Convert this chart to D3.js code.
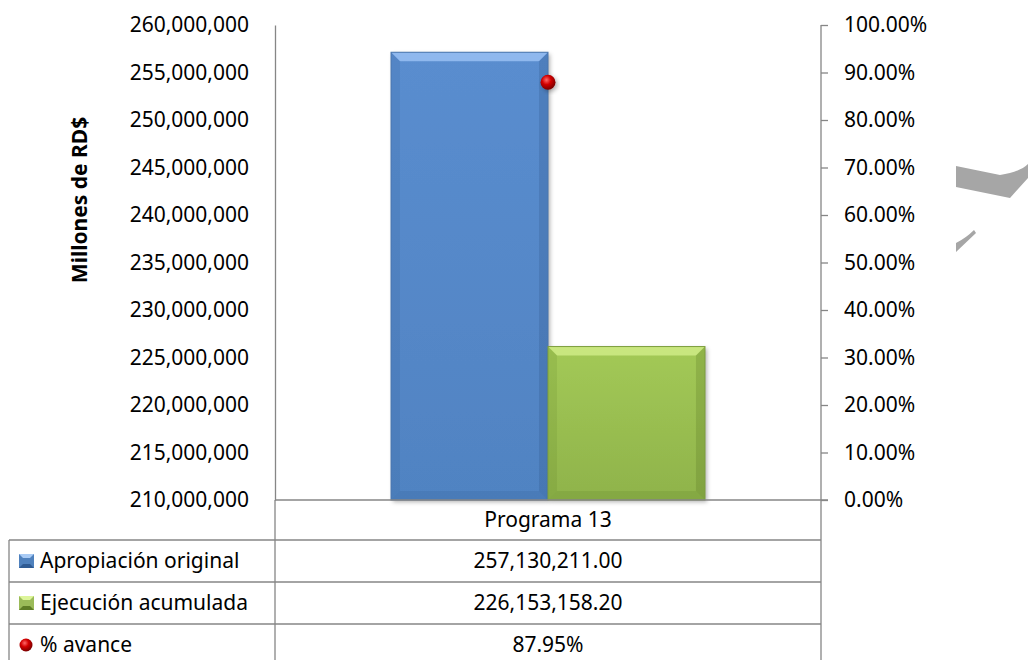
<!DOCTYPE html>
<html>
<head>
<meta charset="utf-8">
<script src="https://cdn.jsdelivr.net/npm/d3@7"></script>
<style>
  body { margin: 0; background: #fff; }
  text { font-family: "Noto Sans", "Open Sans", sans-serif; fill: #000; }
</style>
</head>
<body>
<div id="chart"></div>
<script>
var w = 1028,
	h = 660;

// Data
var categories = ["Programa 13"];
var seriesNames = ["Apropiación original", "Ejecución acumulada"];
var apropiacion = [257130211.00];
var ejecucion = [226153158.20];
var avance = [0.8795];
var leftTicks = [210000000, 215000000, 220000000, 225000000, 230000000, 235000000,
	240000000, 245000000, 250000000, 255000000, 260000000];
var rightTicks = [0, 0.1, 0.2, 0.3, 0.4, 0.5, 0.6, 0.7, 0.8, 0.9, 1.0];

var plotLeft = 275, plotRight = 821, plotTop = 25, base = 500;
var fs = "21px";

var svg = d3.select("#chart").append("svg")
	.attr("width", w)
	.attr("height", h);

var defs = svg.append("defs");

// gradients
function linGrad(id, c1, c2) {
	var g = defs.append("linearGradient").attr("id", id)
		.attr("x1", 0).attr("y1", 0).attr("x2", 0).attr("y2", 1);
	g.append("stop").attr("offset", "0%").attr("stop-color", c1);
	g.append("stop").attr("offset", "100%").attr("stop-color", c2);
}
linGrad("blueG", "#5a8dcf", "#5083c2");
linGrad("greenG", "#a3c956", "#8fb34b");

var rg = defs.append("radialGradient").attr("id", "redBall")
	.attr("cx", "40%").attr("cy", "35%").attr("r", "65%");
rg.append("stop").attr("offset", "0%").attr("stop-color", "#ff6a6a");
rg.append("stop").attr("offset", "45%").attr("stop-color", "#d40000");
rg.append("stop").attr("offset", "100%").attr("stop-color", "#7a0000");

var sh = defs.append("filter").attr("id", "shadow")
	.attr("x", "-20%").attr("y", "-20%").attr("width", "150%").attr("height", "150%");
sh.append("feDropShadow").attr("dx", 2).attr("dy", 2).attr("stdDeviation", 2)
	.attr("flood-color", "#000").attr("flood-opacity", 0.3);

// Scales
var y = d3.scaleLinear().domain([210000000, 260000000]).range([base, plotTop]);
var y2 = d3.scaleLinear().domain([0, 1]).range([base, plotTop]);

var x0 = d3.scaleBand().domain(categories).range([plotLeft, plotRight]);
var x1 = d3.scaleBand().domain(seriesNames).range([0, x0.bandwidth()]).paddingOuter(0.739);

var fmt = d3.format(",");

// Left axis
var yAxis = d3.axisLeft(y).tickValues(leftTicks).tickSize(0).tickPadding(26)
	.tickFormat(function(d){ return fmt(d); });
var gy = svg.append("g").attr("transform", "translate(" + plotLeft + ",0)").call(yAxis);
gy.select(".domain").attr("stroke", "#868686").attr("stroke-width", 1.3);
gy.selectAll("text").attr("font-size", fs)
	.style("font-family", "'Noto Sans', sans-serif").attr("fill", "#000");

// Right axis
var y2Axis = d3.axisRight(y2).tickValues(rightTicks).tickSize(7).tickSizeOuter(7).tickPadding(16)
	.tickFormat(d3.format(".2%"));
var gy2 = svg.append("g").attr("transform", "translate(" + plotRight + ",0)").call(y2Axis);
gy2.select(".domain").attr("stroke", "#868686").attr("stroke-width", 1.3)
	.attr("d", "M0," + plotTop + "V" + h);
gy2.selectAll(".tick line").attr("stroke", "#868686").attr("stroke-width", 1.3);
gy2.selectAll("text").attr("font-size", fs)
	.style("font-family", "'Noto Sans', sans-serif").attr("fill", "#000");

// Axis title
svg.append("text")
	.attr("transform", "translate(80,200) rotate(-90)")
	.attr("text-anchor", "middle")
	.attr("dy", "0.35em")
	.attr("font-size", "21px")
	.attr("font-weight", "bold")
	.text("Millones de RD$");

// Bevelled bar
function bevelBar(g, bx, by, bw, bh, grad, light, dark, edge) {
	var b = 9;
	g.append("rect").attr("x", bx).attr("y", by).attr("width", bw).attr("height", bh)
		.attr("fill", "url(#" + grad + ")").attr("filter", "url(#shadow)");
	// top bevel
	g.append("path").attr("d", "M" + bx + "," + by + "H" + (bx + bw) + "L" + (bx + bw - b) + "," + (by + b)
		+ "H" + (bx + b) + "Z").attr("fill", light).attr("opacity", 0.8);
	// left bevel
	g.append("path").attr("d", "M" + bx + "," + by + "L" + (bx + b) + "," + (by + b) + "V" + (by + bh - b)
		+ "L" + bx + "," + (by + bh) + "Z").attr("fill", dark).attr("opacity", 0.12);
	// right bevel
	g.append("path").attr("d", "M" + (bx + bw) + "," + by + "L" + (bx + bw - b) + "," + (by + b) + "V" + (by + bh - b)
		+ "L" + (bx + bw) + "," + (by + bh) + "Z").attr("fill", dark).attr("opacity", 0.22);
	// bottom bevel
	g.append("path").attr("d", "M" + bx + "," + (by + bh) + "L" + (bx + b) + "," + (by + bh - b) + "H" + (bx + bw - b)
		+ "L" + (bx + bw) + "," + (by + bh) + "Z").attr("fill", dark).attr("opacity", 0.15);
	g.append("rect").attr("x", bx).attr("y", by).attr("width", bw).attr("height", bh)
		.attr("fill", "none").attr("stroke", edge).attr("stroke-width", 1);
}

var bars = svg.append("g");
categories.forEach(function(c, i) {
	var gx = x0(c);
	bevelBar(bars, gx + x1(seriesNames[0]), y(apropiacion[i]), x1.bandwidth(), base - y(apropiacion[i]),
		"blueG", "#9cc3f5", "#2a4f80", "#4a76ad");
	bevelBar(bars, gx + x1(seriesNames[1]), y(ejecucion[i]), x1.bandwidth(), base - y(ejecucion[i]),
		"greenG", "#d2ee8a", "#4d6a1c", "#7e9f3f");
	// % avance point
	bars.append("circle")
		.attr("cx", gx + x0.bandwidth() / 2)
		.attr("cy", y2(avance[i]))
		.attr("r", 7.5)
		.attr("fill", "url(#redBall)")
		.attr("filter", "url(#shadow)");
});

// Baseline (category axis)
svg.append("line").attr("x1", plotLeft).attr("x2", plotRight + 7).attr("y1", base).attr("y2", base)
	.attr("stroke", "#868686").attr("stroke-width", 1.5);

// Data table
var tableLeft = 9, rowH = 42, headerBottom = 540;
var tbl = svg.append("g").attr("stroke", "#868686").attr("stroke-width", 1.3);
tbl.append("line").attr("x1", plotLeft).attr("x2", plotLeft).attr("y1", base).attr("y2", h);
tbl.append("line").attr("x1", tableLeft).attr("x2", tableLeft).attr("y1", headerBottom).attr("y2", h);
[0, 1, 2].forEach(function(k) {
	tbl.append("line").attr("x1", tableLeft).attr("x2", plotRight)
		.attr("y1", headerBottom + k * rowH).attr("y2", headerBottom + k * rowH);
});

var cx = x0(categories[0]) + x0.bandwidth() / 2;
svg.append("text").attr("x", cx).attr("y", 520).attr("dy", "0.35em")
	.attr("text-anchor", "middle").attr("font-size", fs).text(categories[0]);

var rows = [
	{label: seriesNames[0], value: d3.format(",.2f")(apropiacion[0]), key: "blue"},
	{label: seriesNames[1], value: d3.format(",.2f")(ejecucion[0]), key: "green"},
	{label: "% avance", value: d3.format(".2%")(avance[0]), key: "red"}
];

rows.forEach(function(r, i) {
	var cy = headerBottom + i * rowH + rowH / 2;
	if (r.key === "red") {
		svg.append("circle").attr("cx", 26).attr("cy", cy).attr("r", 6.5)
			.attr("fill", "url(#redBall)");
	} else {
		var g = svg.append("g");
		if (r.key === "blue") {
			g.append("rect").attr("x", 19).attr("y", cy - 7).attr("width", 15).attr("height", 14).attr("fill", "#4f81bd");
			g.append("path").attr("d", "M19," + (cy - 7) + "h15l-4,4h-7z").attr("fill", "#a9cbf5");
			g.append("path").attr("d", "M19," + (cy + 7) + "h15l-4,-4h-7z").attr("fill", "#2f5b93");
		} else {
			g.append("rect").attr("x", 19).attr("y", cy - 7).attr("width", 15).attr("height", 14).attr("fill", "#9bbb59");
			g.append("path").attr("d", "M19," + (cy - 7) + "h15l-4,4h-7z").attr("fill", "#ddf59a");
			g.append("path").attr("d", "M19," + (cy + 7) + "h15l-4,-4h-7z").attr("fill", "#5e7d26");
		}
	}
	svg.append("text").attr("x", 40).attr("y", cy).attr("dy", "0.35em")
		.attr("font-size", fs).text(r.label);
	svg.append("text").attr("x", cx).attr("y", cy).attr("dy", "0.35em")
		.attr("text-anchor", "middle").attr("font-size", fs).text(r.value);
});

// stray grey shape at right edge
svg.append("path")
	.attr("d", "M956,166 L1000,175 Q1020,172 1028,164 L1028,178 L1010,198 L956,187 Z")
	.attr("fill", "#a6a6a6");
svg.append("path")
	.attr("d", "M956,243 Q966,238 974,230 L976,233 L956,252 Z")
	.attr("fill", "#a6a6a6");
</script>
</body>
</html>
